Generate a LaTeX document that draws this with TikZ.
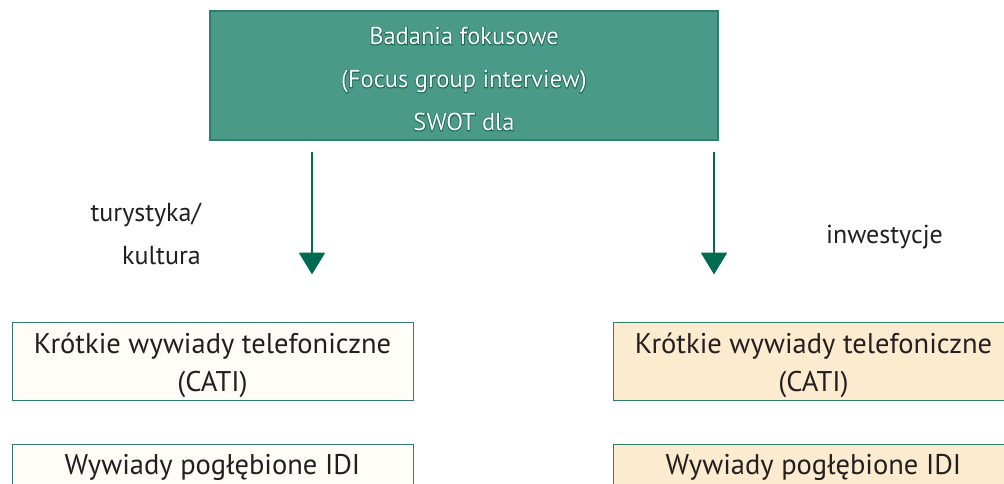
\documentclass[tikz,border=0pt]{standalone}
\usepackage{fontspec}
\setmainfont{PT Sans}
% stroked copy of the face, used for the dark outline behind the white title
\newfontfamily\halofont[RawFeature={embolden=6}]{PT Sans}
\usetikzlibrary{arrows.meta}

\definecolor{teal}{HTML}{4A9A88}
\definecolor{tealedge}{HTML}{2F7F6A}
\definecolor{arrowgreen}{HTML}{006B50}
\definecolor{halo}{HTML}{1A6A55}
\definecolor{cream}{HTML}{FFFDF8}
\definecolor{peach}{HTML}{FDEBD0}
\definecolor{ink}{HTML}{231F20}

\tikzset{
  headbox/.style={draw=tealedge, line width=1.2pt, fill=teal, minimum width=508pt,
    minimum height=129pt, inner sep=0pt},
  headtext/.style={align=center, inner sep=0pt, font=\fontsize{24.5}{43}\selectfont},
  lightbox/.style={draw=tealedge, line width=1pt, fill=cream, minimum width=401pt,
    minimum height=78pt, inner sep=0pt},
  warmbox/.style={lightbox, fill=peach},
  boxtext/.style={text=ink, align=center, inner sep=0pt, font=\fontsize{28.5}{38}\selectfont},
  sidetext/.style={text=ink, inner sep=0pt, font=\fontsize{26}{43}\selectfont},
  flow/.style={draw=arrowgreen, line width=2.6pt,
    -{Triangle[width=26pt,length=22pt]}, arrowgreen}
}

\begin{document}
\begin{tikzpicture}[x=1pt,y=-1pt]
  \useasboundingbox (0,0) rectangle (1004,484);
  \clip (0,0) rectangle (1004,484);

  % top box, its white title drawn over a darker outlined copy
  \node[headbox] (focus) at (464,75.5) {};
  \node[headtext, text=halo, font=\halofont\fontsize{24.5}{43}\selectfont] (focushalo) at (464,79)
    {Badania fokusowe\\(Focus group interview)\\SWOT dla};
  \node[headtext, text=white] (focustext) at (464,79)
    {Badania fokusowe\\(Focus group interview)\\SWOT dla};

  % lower boxes
  \node[lightbox] (cati1) at (212.5,361) {};
  \node[lightbox] (idi1) at (212.5,483) {};
  \node[warmbox] (cati2) at (813.5,361) {};
  \node[warmbox] (idi2) at (813.5,483) {};

  \node[boxtext] (cati1t) at (212.5,365) {Krótkie wywiady telefoniczne\\(CATI)};
  \node[boxtext] (cati2t) at (813.5,365) {Krótkie wywiady telefoniczne\\(CATI)};
  \node[boxtext] (idi1t) at (212.5,467) {Wywiady pogłębione IDI};
  \node[boxtext] (idi2t) at (813.5,467) {Wywiady pogłębione IDI};

  % arrows
  \coordinate (s1) at ([yshift=-11pt]focus.south -| 312,0);
  \coordinate (e1) at ([yshift=47pt]cati1.north -| 312,0);
  \coordinate (s2) at ([yshift=-11pt]focus.south -| 714,0);
  \coordinate (e2) at ([yshift=47pt]cati2.north -| 714,0);
  \draw[flow] (s1) -- (e1);
  \draw[flow] (s2) -- (e2);

  % branch labels
  \node[sidetext, anchor=east, align=right] (lab1) at (201,234) {turystyka/\\kultura};
  \node[sidetext, anchor=west] (lab2) at (826,237) {inwestycje};
\end{tikzpicture}
\end{document}
